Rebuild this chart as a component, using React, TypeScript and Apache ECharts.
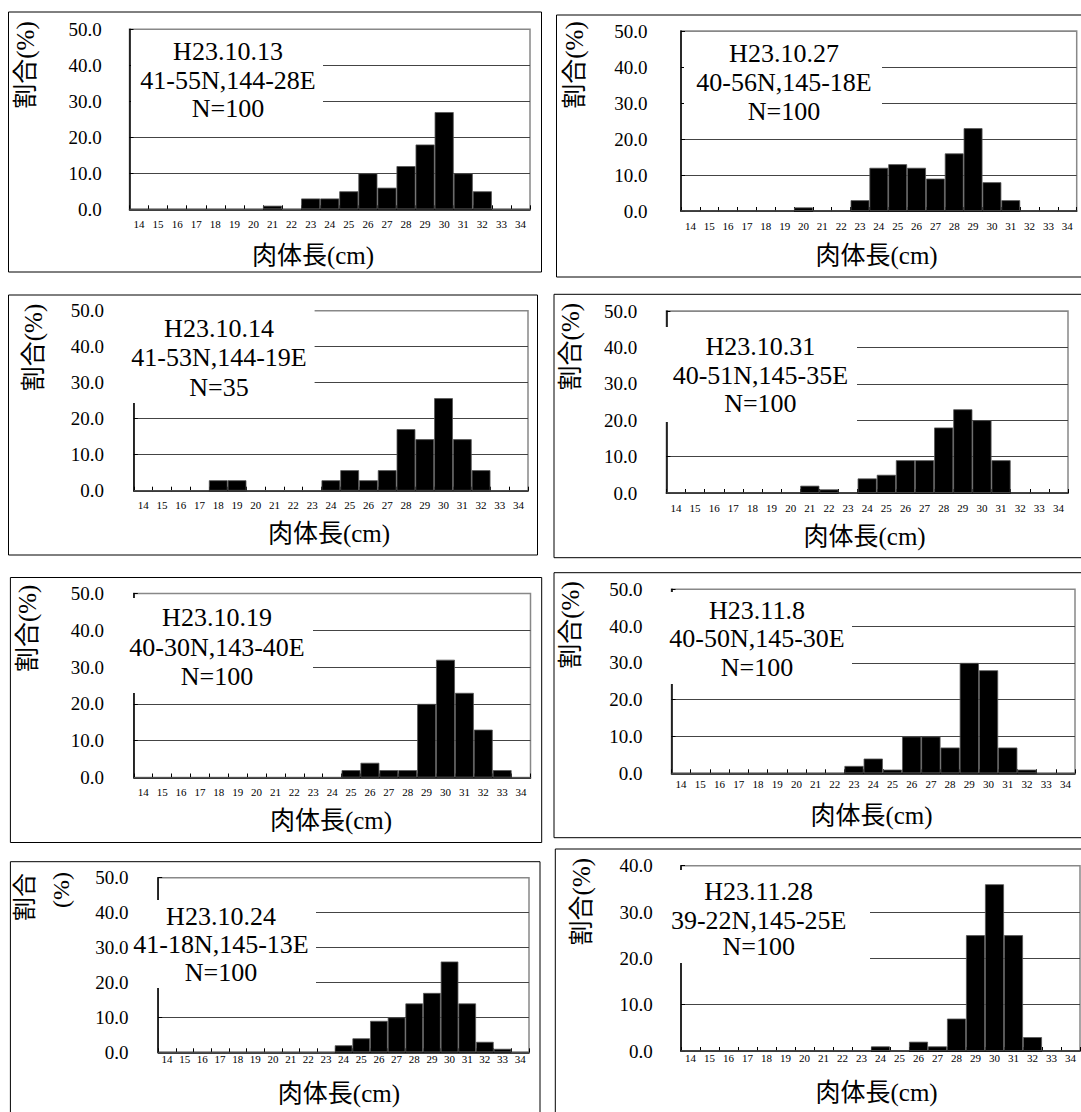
import React, { useEffect, useRef } from "react";
import * as echarts from "echarts";

// ---------- data ----------
const categories = ["14","15","16","17","18","19","20","21","22","23","24","25","26","27","28","29","30","31","32","33","34"];
const dateLabels = ["H23.10.13","H23.10.27","H23.10.14","H23.10.31","H23.10.19","H23.11.8","H23.10.24","H23.11.28"];
const positionLabels = ["41-55N,144-28E","40-56N,145-18E","41-53N,144-19E","40-51N,145-35E","40-30N,143-40E","40-50N,145-30E","41-18N,145-13E","39-22N,145-25E"];
const sampleLabels = ["N=100","N=100","N=35","N=100","N=100","N=100","N=100","N=100"];
const yMaxValues = [50, 50, 50, 50, 50, 50, 50, 40];
const yTitle = "割合(%)";
const yTitleSplit = ["割合", "(%)"];
const xTitle = "肉体長(cm)";

const s1013 = [0,0,0,0,0,0,0,1,0,3,3,5,10,6,12,18,27,10,5,0,0];
const s1027 = [0,0,0,0,0,0,1,0,0,3,12,13,12,9,16,23,8,3,0,0,0];
const s1014 = [0,0,0,0,2.9,2.9,0,0,0,0,2.9,5.7,2.9,5.7,17.1,14.3,25.7,14.3,5.7,0,0];
const s1031 = [0,0,0,0,0,0,0,2,1,0,4,5,9,9,18,23,20,9,0,0,0];
const s1019 = [0,0,0,0,0,0,0,0,0,0,0,2,4,2,2,20,32,23,13,2,0];
const s1108 = [0,0,0,0,0,0,0,0,0,2,4,1,10,10,7,30,28,7,1,0,0];
const s1024 = [0,0,0,0,0,0,0,0,0,0,2,4,9,10,14,17,26,14,3,1,0];
const s1128 = [0,0,0,0,0,0,0,0,0,0,1,0,2,1,7,25,36,25,3,0,0];
const seriesValues = [s1013, s1027, s1014, s1031, s1019, s1108, s1024, s1128];

// ---------- layout ----------
const FONT = '"Liberation Serif", "Noto Sans CJK JP", serif';
const CJK = '"Liberation Serif", "Noto Sans CJK JP", sans-serif';

type Layout = {
  box: number[]; // x, y, w, h
  grid: number[]; // left, top, rightX, bottomY
  ylabRight: number;
  xlabY: number;
  xtitle: number[];
  yname: number[][]; // cx, cy per line
  noteX: number;
  noteY: number[];
  noteBox: number[]; // x1, y1, x2, y2
};

const layouts: Layout[] = [
  { box: [8.5, 12, 533, 260], grid: [129.5, 29.3, 530, 209.3], ylabRight: 101.7, xlabY: 224, xtitle: [313, 255], yname: [[25, 65]], noteX: 228, noteY: [51.7, 80, 108], noteBox: [131, 36, 323, 120] },
  { box: [556.5, 15, 600, 262], grid: [681, 31, 1076.7, 211], ylabRight: 647.6, xlabY: 226, xtitle: [876.6, 255], yname: [[574, 65]], noteX: 784, noteY: [53, 82, 111], noteBox: [684, 40, 882, 120] },
  { box: [8.5, 295, 529, 260], grid: [133.8, 310.7, 528, 490.7], ylabRight: 104, xlabY: 505, xtitle: [329, 533], yname: [[33, 347.5]], noteX: 219, noteY: [328, 357.5, 387], noteBox: [118, 300, 314.6, 403] },
  { box: [554, 294.3, 600, 263.4], grid: [666.4, 311, 1068, 493], ylabRight: 637.3, xlabY: 507.7, xtitle: [864.6, 536.7], yname: [[570.6, 346.7]], noteX: 760.4, noteY: [346.7, 375, 403.3], noteBox: [660, 327, 857, 422] },
  { box: [10.4, 577.5, 531.3, 265], grid: [133.8, 593.5, 530.5, 777.5], ylabRight: 104, xlabY: 792.3, xtitle: [331, 820], yname: [[27.8, 628.3]], noteX: 217, noteY: [617.3, 647, 676.7], noteBox: [112, 598, 313, 693] },
  { box: [554, 572.7, 600, 265], grid: [671.5, 589.3, 1075, 773.3], ylabRight: 642.4, xlabY: 784, xtitle: [871.5, 815], yname: [[570.6, 625]], noteX: 757, noteY: [610, 638.7, 667.3], noteBox: [660, 592, 852, 684] },
  { box: [10.4, 861.7, 529.6, 300], grid: [158.2, 877.7, 529, 1052.3], ylabRight: 128.6, xlabY: 1059, xtitle: [338.9, 1093.3], yname: [[25, 897], [61, 890]], noteX: 221, noteY: [916, 944, 972], noteBox: [130, 900, 316, 988] },
  { box: [555.3, 849, 600, 300], grid: [681, 865.7, 1080, 1051], ylabRight: 652.7, xlabY: 1058.3, xtitle: [876.6, 1092.7], yname: [[581, 901.7]], noteX: 758.7, noteY: [891.7, 920, 946.7], noteBox: [670, 870, 870, 963] },
];

function txt(text: string, x: number, y: number, fontSize: number, family: string, z: number, rotation = 0) {
  return {
    type: "text",
    x,
    y,
    rotation,
    z,
    silent: true,
    style: {
      text,
      fill: "#000",
      fontSize,
      fontFamily: family,
      align: "center",
      verticalAlign: "middle",
      textAlign: "center",
      textVerticalAlign: "middle",
    },
  };
}

function buildOption() {
  const grids: any[] = [];
  const xAxes: any[] = [];
  const yAxes: any[] = [];
  const series: any[] = [];
  const graphics: any[] = [];

  layouts.forEach((l, i) => {
    const [gl, gt, gr, gb] = l.grid;
    const yMax = yMaxValues[i];
    const nLines = yMax / 10 + 1;
    const splitColors: string[] = [];
    for (let k = 0; k < nLines; k++) splitColors.push(k === nLines - 1 ? "#888" : "#444");

    grids.push({
      left: gl,
      top: gt,
      width: gr - gl,
      height: gb - gt,
      show: true,
      borderColor: "#888",
      borderWidth: 1.5,
      backgroundColor: "transparent",
      containLabel: false,
      outerBoundsMode: "none",
    });
    xAxes.push({
      type: "category",
      gridIndex: i,
      data: categories,
      boundaryGap: true,
      axisLine: { show: true, lineStyle: { color: "#000", width: 1.5 } },
      axisTick: { show: true, inside: true, length: 4, interval: 0, lineStyle: { color: "#000" } },
      axisLabel: { interval: 0, fontSize: 11, fontFamily: FONT, color: "#000", margin: Math.max(0, l.xlabY - gb - 5.5) },
      splitLine: { show: false },
    });
    yAxes.push({
      type: "value",
      gridIndex: i,
      min: 0,
      max: yMax,
      interval: 10,
      axisLine: { show: true, lineStyle: { color: "#000", width: 1.5 } },
      axisTick: { show: true, inside: true, length: 4, lineStyle: { color: "#000" } },
      axisLabel: { formatter: (v: number) => v.toFixed(1), fontSize: 19, fontFamily: FONT, color: "#000", margin: gl - l.ylabRight },
      splitLine: { show: true, lineStyle: { color: splitColors, width: 1 } },
    });
    series.push({
      type: "bar",
      xAxisIndex: i,
      yAxisIndex: i,
      data: seriesValues[i],
      barCategoryGap: "0%",
      silent: true,
      itemStyle: { color: "#000", borderColor: "#555", borderWidth: 0.8 },
    });

    // panel frame
    graphics.push({
      type: "rect",
      z: 1,
      silent: true,
      shape: { x: l.box[0], y: l.box[1], width: l.box[2], height: l.box[3] },
      style: { fill: "none", stroke: "#000", lineWidth: 1 },
    });
    // note background
    const [nx1, ny1, nx2, ny2] = l.noteBox;
    graphics.push({
      type: "rect",
      z: 100,
      silent: true,
      shape: { x: nx1, y: ny1, width: nx2 - nx1, height: ny2 - ny1 },
      style: { fill: "#fff", stroke: "none" },
    });
    const noteLines = [dateLabels[i], positionLabels[i], sampleLabels[i]];
    noteLines.forEach((t, k) => graphics.push(txt(t, l.noteX, l.noteY[k], 26, FONT, 101)));
    // axis titles
    graphics.push(txt(xTitle, l.xtitle[0], l.xtitle[1], 25, CJK, 101));
    if (l.yname.length === 1) {
      graphics.push(txt(yTitle, l.yname[0][0], l.yname[0][1], 25, CJK, 101, Math.PI / 2));
    } else {
      l.yname.forEach((p, k) => graphics.push(txt(yTitleSplit[k], p[0], p[1], 24, CJK, 101, Math.PI / 2)));
    }
  });

  return {
    animation: false,
    backgroundColor: "#fff",
    grid: grids,
    xAxis: xAxes,
    yAxis: yAxes,
    series,
    graphic: { elements: graphics },
  };
}

export default function App() {
  const ref = useRef<HTMLDivElement>(null);
  useEffect(() => {
    if (!ref.current) return;
    document.body.style.margin = "0";
    document.body.style.overflow = "hidden";
    const chart = echarts.init(ref.current, undefined, { renderer: "svg" });
    chart.setOption(buildOption() as any);
    return () => chart.dispose();
  }, []);
  return (
    <div
      ref={ref}
      style={{ position: "absolute", left: 0, top: 0, width: 1081, height: 1112, background: "#fff" }}
    />
  );
}
